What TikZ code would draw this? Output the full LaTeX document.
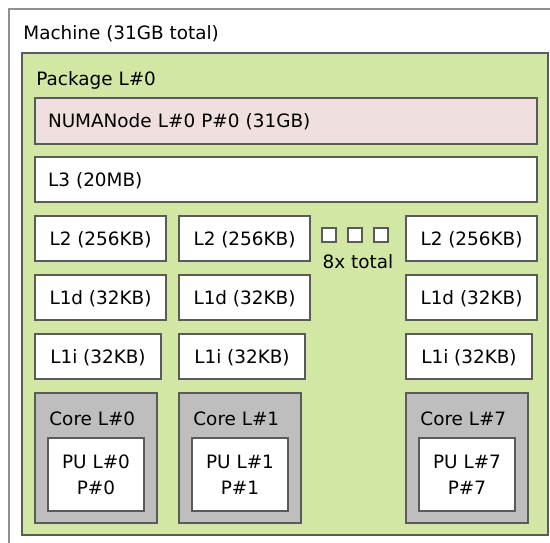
\documentclass[tikz,border=0pt]{standalone}
\usepackage{fontspec}
\setmainfont{DejaVu Sans}
\usetikzlibrary{positioning}
\definecolor{pkggreen}{HTML}{D2E7A4}
\definecolor{numapink}{HTML}{EFDFDE}
\definecolor{coregray}{HTML}{BEBEBE}
\definecolor{edgegray}{HTML}{5A5A5A}
\definecolor{machinegray}{HTML}{909090}

\begin{document}
\begin{tikzpicture}[x=0.5pt, y=-0.5pt,
  every node/.style={font=\fontsize{9.2}{13}\selectfont, inner sep=0pt},
  box/.style={draw=edgegray, line width=0.9pt, rectangle, outer sep=0pt, anchor=north west},
  wide/.style={box, minimum height=23pt, text width=238pt, inner xsep=6.5pt, align=left, text height=6.7pt, text depth=0pt},
  cache/.style={box, fill=white, minimum width=65.5pt, minimum height=22.5pt, text height=6.7pt, text depth=0pt},
  core/.style={box, fill=coregray, minimum width=61pt, minimum height=65pt},
  pu/.style={box, fill=white, minimum width=48pt, minimum height=36.5pt, align=center},
  sq/.style={box, fill=white, minimum size=7pt}]
\clip (0,0) rectangle (550,542);
\fill[white] (0,0) rectangle (550,542);
% machine and package
\node[box, draw=machinegray, fill=white, minimum width=300pt, minimum height=300pt] (machine) at (9,9) {};
\node[anchor=base west] (machinelbl) at (23,39) {Machine (31GB total)};
\node[box, fill=pkggreen, minimum width=263pt, minimum height=241pt] (pkg) at (22,53) {};
\node[anchor=base west] (pkglbl) at (36,85) {Package L\#0};
\node[wide, fill=numapink] (numa) at (35,98) {NUMANode L\#0 P\#0 (31GB)};
\node[wide, fill=white, minimum height=22.5pt] (l3) at (35,157) {L3 (20MB)};
% column 0
\node[cache] (l2a) at (35,216) {L2 (256KB)};
\node[cache, below=7pt of l2a.south west, anchor=north west] (l1da) {L1d (32KB)};
\node[cache, minimum width=63pt, below=7pt of l1da.south west, anchor=north west] (l1ia) {L1i (32KB)};
\node[core, below=7pt of l1ia.south west, anchor=north west] (corea) {};
\node[anchor=base west] (corealbl) at ([xshift=7pt, yshift=-16pt]corea.north west) {Core L\#0};
\node[pu] (pua) at ([xshift=6.5pt, yshift=-22.5pt]corea.north west) {PU L\#0\\P\#0};
% column 1
\node[cache] (l2b) at (179,216) {L2 (256KB)};
\node[cache, below=7pt of l2b.south west, anchor=north west] (l1db) {L1d (32KB)};
\node[cache, minimum width=63pt, below=7pt of l1db.south west, anchor=north west] (l1ib) {L1i (32KB)};
\node[core, below=7pt of l1ib.south west, anchor=north west] (coreb) {};
\node[anchor=base west] (coreblbl) at ([xshift=7pt, yshift=-16pt]coreb.north west) {Core L\#1};
\node[pu] (pub) at ([xshift=6.5pt, yshift=-22.5pt]coreb.north west) {PU L\#1\\P\#1};
% 8x total
\node[sq] (sqa) at (322,228) {};
\node[sq, right=6pt of sqa.north east, anchor=north west] (sqb) {};
\node[sq, right=6pt of sqb.north east, anchor=north west] (sqc) {};
\node[anchor=base] (total) at (358,268) {8x total};
% column 7
\node[cache] (l2h) at (406,216) {L2 (256KB)};
\node[cache, below=7pt of l2h.south west, anchor=north west] (l1dh) {L1d (32KB)};
\node[cache, minimum width=63pt, below=7pt of l1dh.south west, anchor=north west] (l1ih) {L1i (32KB)};
\node[core, below=7pt of l1ih.south west, anchor=north west] (coreh) {};
\node[anchor=base west] (corehlbl) at ([xshift=7pt, yshift=-16pt]coreh.north west) {Core L\#7};
\node[pu] (puh) at ([xshift=6.5pt, yshift=-22.5pt]coreh.north west) {PU L\#7\\P\#7};
\end{tikzpicture}
\end{document}
